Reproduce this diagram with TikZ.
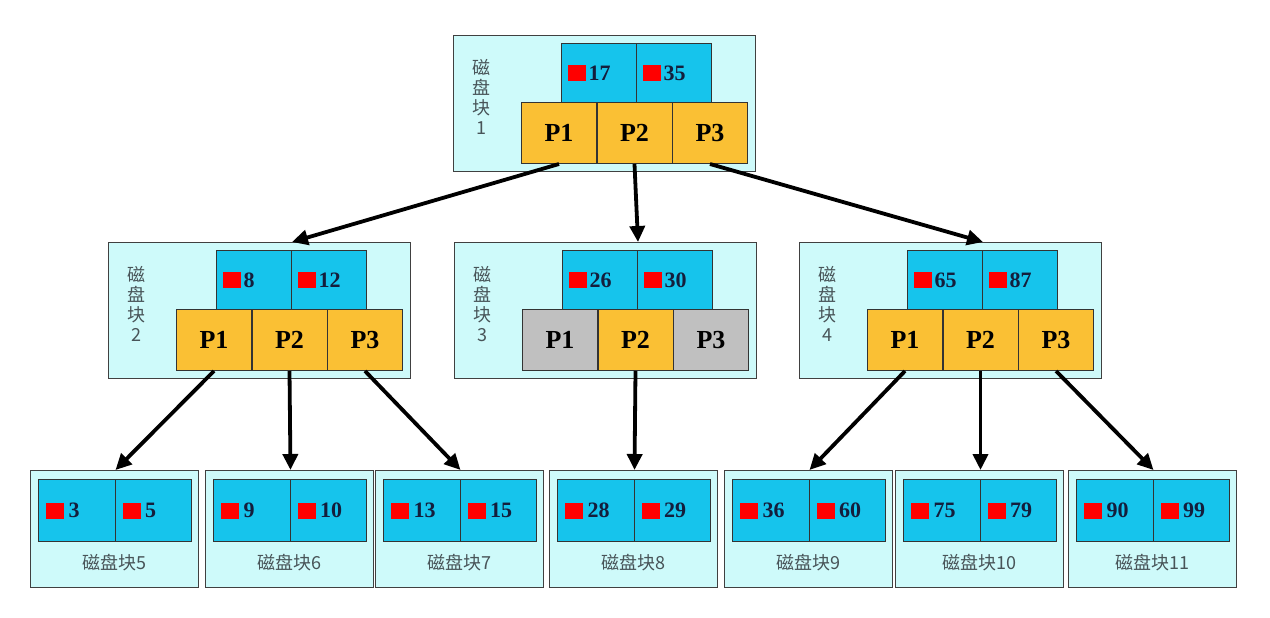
\documentclass[tikz,border=0pt]{standalone}
\usepackage{fontspec}
\setmainfont{Liberation Serif}
\newfontfamily\cjk{Noto Sans CJK SC}
\usetikzlibrary{arrows.meta,positioning,calc}
\definecolor{bc}{RGB}{206,250,250}
\definecolor{kc}{RGB}{22,196,236}
\definecolor{pc}{RGB}{250,192,52}
\definecolor{gc}{RGB}{192,192,192}
\definecolor{tc}{RGB}{72,84,88}
\definecolor{nc}{RGB}{20,30,60}
\tikzset{blk/.style={draw=black!75,fill=bc,line width=1.2pt,anchor=north west,inner sep=0pt},
 key/.style={draw=black!80,fill=kc,line width=1pt,anchor=north west,minimum width=75pt,minimum height=59pt,inner sep=0pt},
 ptr/.style={key,fill=pc,minimum height=61pt,font=\fontsize{26}{28}\selectfont\bfseries},
 lkey/.style={key,minimum width=76.5pt,minimum height=62pt},
 dot/.style={fill=red,minimum width=18pt,minimum height=16pt,inner sep=0pt},
 num/.style={inner sep=0pt,font=\fontsize{22}{24}\selectfont\bfseries,text=nc},
 lab/.style={font=\cjk\fontsize{18}{20}\selectfont,text=tc,align=center},
 arr/.style={-{Triangle[length=16pt,width=15pt]},line width=3.8pt}}
\begin{document}
\begin{tikzpicture}[x=1pt,y=-1pt]
\fill[white] (0,0) rectangle (1270,618);
\useasboundingbox (0,0) rectangle (1270,618);
% inner blocks
\foreach \n/\x/\y/\ka/\kb/\m/\g in {r/453/35/17/35/1/pc,b2/108/242/8/12/2/pc,b3/454/242/26/30/3/gc,b4/799/242/65/87/4/pc}{
\node[blk,minimum width=302pt,minimum height=136pt] (\n) at (\x,\y) {};
\node[lab] (\n-t) at (\x+28,\y+62) {磁\\盘\\块\\\m};
\node[key] (\n-k1) at (\x+108,\y+8) {};
\node[key] (\n-k2) at (\x+183,\y+8) {};
\node[ptr,fill=\g] (\n-p1) at (\x+68,\y+67) {P1};
\node[ptr] (\n-p2) at (\x+143.5,\y+67) {P2};
\node[ptr,fill=\g] (\n-p3) at (\x+219,\y+67) {P3};
\node[dot,right=7pt of \n-k1.west] (\n-d1) {};
\node[num,right=2pt of \n-d1] (\n-n1) {\ka};
\node[dot,right=7pt of \n-k2.west] (\n-d2) {};
\node[num,right=2pt of \n-d2] (\n-n2) {\kb};}
% leaf blocks
\foreach \n/\x/\ka/\kb/\m in {l5/30/3/5/5,l6/205/9/10/6,l7/375/13/15/7,l8/549/28/29/8,l9/724/36/60/9,l10/895/75/79/10,l11/1068/90/99/11}{
\node[blk,minimum width=168pt,minimum height=117pt] (\n) at (\x,470) {};
\node[lkey] (\n-k1) at (\x+8,479) {};
\node[lkey] (\n-k2) at (\x+84.5,479) {};
\node[dot,right=8pt of \n-k1.west] (\n-d1) {};
\node[num,right=4pt of \n-d1] (\n-n1) {\ka};
\node[dot,right=8pt of \n-k2.west] (\n-d2) {};
\node[num,right=4pt of \n-d2] (\n-n2) {\kb};
\node[lab] (\n-t) at (\x+84,563) {磁盘块\m};}
\foreach \s/\t in {r-p1/b2,r-p2/b3,r-p3/b4,b2-p1/l5,b2-p2/l6,b2-p3/l7,b3-p2/l8,b4-p1/l9,b4-p2/l10,b4-p3/l11}
\draw[arr] (\s.south) -- (\t-k1.north east |- \t.north);
\end{tikzpicture}
\end{document}
